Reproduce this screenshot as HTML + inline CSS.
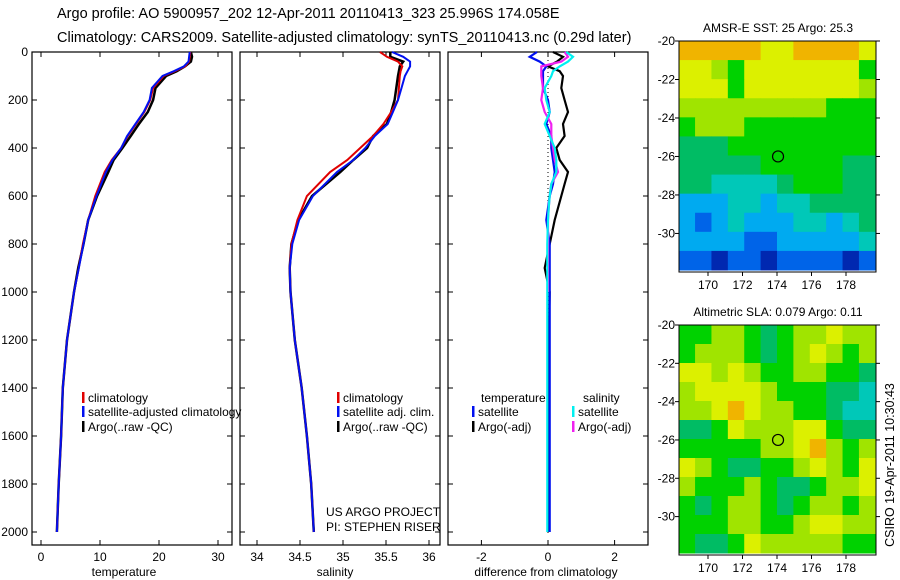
<!DOCTYPE html>
<html><head><meta charset="utf-8"><style>
html,body{margin:0;padding:0;background:#fff;}
svg{display:block;font-family:"Liberation Sans",sans-serif;}
</style></head><body>
<svg id="chart" width="900" height="580" viewBox="0 0 900 580">
<text x="57" y="18" font-size="14.5">Argo profile: AO 5900957_202 12-Apr-2011 20110413_323 25.996S 174.058E</text>
<text x="57" y="42" font-size="14.5">Climatology: CARS2009. Satellite-adjusted climatology: synTS_20110413.nc (0.29d later)</text>
<text transform="translate(894,465) rotate(-90)" text-anchor="middle" font-size="12.5">CSIRO 19-Apr-2011 10:30:43</text>
<g id="g"></g>
</svg>
<script>
// ---------- data ----------
const depths=[0,20,40,60,80,100,150,200,250,300,350,400,450,500,600,700,800,900,1000,1200,1400,1600,1800,2000];
const tempClim=[25.3,25.2,25.1,24.4,22.7,20.8,19,18.5,17.5,16.1,14.7,13.6,12,10.8,9.2,8,7.1,6.4,5.6,4.4,3.7,3.4,3,2.7];
const tempSat=[25.2,25.1,25.0,24.2,22.5,20.6,18.8,18.4,17.4,16.0,14.6,13.6,12.1,11.0,9.4,8.0,7.2,6.4,5.6,4.4,3.7,3.4,3.0,2.7];
const tempArgo=[25.4,25.6,25.4,24.4,23.0,21.2,19.4,19.0,18.1,16.6,15.2,13.8,12.3,11.4,9.5,8.0,7.2,6.3,5.6,4.4,3.7,3.4,3.0,2.7];
const salClim=[35.43,35.51,35.64,35.69,35.67,35.66,35.65,35.64,35.56,35.47,35.35,35.2,35.05,34.85,34.58,34.47,34.4,34.38,34.39,34.44,34.52,34.58,34.63,34.66];
const salSat=[35.57,35.7,35.78,35.78,35.75,35.72,35.68,35.64,35.58,35.52,35.37,35.26,35.12,34.93,34.65,34.49,34.41,34.38,34.39,34.44,34.52,34.58,34.63,34.66];
const salArgo=[35.55,35.55,35.7,35.66,35.65,35.64,35.62,35.6,35.56,35.51,35.35,35.28,35.12,34.97,34.64,34.48,34.4,34.38,34.39,34.44,34.52,34.58,34.63,34.66];
const diffDepths=[0,20,40,60,80,100,150,200,250,300,350,400,450,500,550,600,650,700,800,900,1000,1200,1400,1600,1800,2000];
const dTempSat=[-0.33,-0.55,-0.25,-0.05,-0.15,-0.15,-0.15,0,0.05,-0.05,0.1,0.1,0.15,0.2,0.15,0.05,0,-0.05,0.05,0.05,0.05,0.05,0.05,0.05,0.05,0.05];
const dTempArgo=[0.15,0.45,0.27,0,0.35,0.45,0.4,0.5,0.6,0.45,0.5,0.25,0.35,0.6,0.5,0.4,0.3,0.2,0.05,-0.1,0.05,0.02,0,0,0,0];
const dSalSat=[0.55,0.75,0.6,0.35,0.15,0.1,-0.1,-0.05,0.05,-0.1,0.05,0.2,0.25,0.25,0.1,0.05,0.02,0,-0.02,-0.02,-0.02,-0.02,-0.02,-0.02,-0.02,-0.02];
const dSalArgo=[0.5,0.6,0.4,-0.2,-0.2,-0.2,-0.15,-0.2,-0.1,0.1,0.1,0.15,0.2,0.3,0.1,0.05,0.02,0,0,0,0];
const depthTicks=[0,200,400,600,800,1000,1200,1400,1600,1800,2000];
const tempTicks=[0,10,20,30];
const salTicks=[34,34.5,35,35.5,36];
const diffTicks=[-2,0,2];
const latTicks=[-20,-22,-24,-26,-28,-30];
const lonTicks=[170,172,174,176,178];
const sstGrid=[
[8,8,8,8,8,7,7,8,8,8,8,7],
[7,7,6,5,7,7,7,7,7,7,7,5],
[7,7,7,5,7,7,7,7,7,7,7,6],
[6,6,6,6,6,6,6,6,6,5,5,5],
[5,6,6,6,5,5,5,5,5,5,5,5],
[4,4,4,5,5,5,5,5,5,5,5,5],
[4,4,4,4,4,5,5,5,5,5,4,4],
[4,4,3,3,3,3,4,5,5,5,4,4],
[2,2,2,3,3,2,3,3,4,4,4,4],
[2,1,2,3,2,2,2,3,3,2,3,4],
[2,2,2,2,1,1,2,2,2,2,2,3],
[1,1,0,1,1,0,1,1,1,1,0,1]];
const slaGrid=[
[5,5,6,6,5,4,5,6,6,7,6,6],
[5,6,6,6,5,4,5,6,7,6,5,6],
[7,7,6,7,6,5,5,6,6,5,5,4],
[6,7,7,7,7,6,5,5,5,4,4,3],
[6,6,7,8,7,6,6,5,5,4,3,3],
[4,4,5,7,6,6,6,7,7,5,4,4],
[5,5,5,5,5,6,6,7,8,6,5,6],
[7,6,5,4,4,5,5,6,7,6,5,7],
[6,5,5,5,6,5,4,4,5,6,6,7],
[5,4,5,6,6,5,4,5,6,6,5,6],
[5,5,5,6,6,5,5,6,7,7,6,6],
[5,4,4,5,7,6,6,6,6,6,5,5]];
const floatLon=174.06, floatLat=-26.0;

// ---------- helpers ----------
const NS="http://www.w3.org/2000/svg";
const G=document.getElementById('g');
function mk(tag,attrs,parent){const e=document.createElementNS(NS,tag);for(const k in attrs)e.setAttribute(k,attrs[k]);(parent||G).appendChild(e);return e;}
const Y0=52, YS=0.24;
function yD(d){return Y0+d*YS;}
const colors=['#0028b0','#0064e8','#00aaf0','#00c8b8','#00bc64','#00d200','#a0e400','#dcf000','#f0b400'];

function panel(name,x0,x1,xf,ticks,xlab,labelLeft){
  const top=52,bot=545;
  const r=mk('rect',{x:x0,y:top,width:x1-x0,height:bot-top,fill:'none',stroke:'#000','stroke-width':1.2});
  
  
  depthTicks.forEach(d=>{
    const y=yD(d);
    mk('line',{x1:x0,x2:x0+5,y1:y,y2:y,stroke:'#000'});
    mk('line',{x1:x1-5,x2:x1,y1:y,y2:y,stroke:'#000'});
    if(labelLeft){const t=mk('text',{x:x0-4,y:y+4,'text-anchor':'end','font-size':12});t.textContent=d;
      
      }
  });
  ticks.forEach(v=>{
    const x=xf(v);
    mk('line',{x1:x,x2:x,y1:top,y2:top+5,stroke:'#000'});
    mk('line',{x1:x,x2:x,y1:bot-5,y2:bot,stroke:'#000'});
    const t=mk('text',{x:x,y:561,'text-anchor':'middle','font-size':12});t.textContent=v;
    
    
  });
  const l=mk('text',{x:(x0+x1)/2-(name==='diff'?2:0)-(name==='temp'?8:0)-(name==='sal'?5:0),y:576,'text-anchor':'middle','font-size':12});l.textContent=xlab;
  
  
}
function line(name,vals,deps,xf,color,w){
  const pts=vals.map((v,i)=>xf(v).toFixed(1)+','+yD(deps[i]).toFixed(1)).join(' ');
  const p=mk('polyline',{points:pts,fill:'none',stroke:color,'stroke-width':w||2});
  
  
}
function legend(x,y,color,txt,name){
  if(color){mk('rect',{x:x,y:y-10,width:2.5,height:11,fill:color});}
  const t=mk('text',{x:x+6,y:y,'font-size':12});t.textContent=txt;
  
  
}

// temperature panel
const xT=v=>41+5.9*v;
panel('temp',32,232,xT,tempTicks,'temperature',true);
line('temp-argo-line',tempArgo,depths,xT,'#000',2.5);
line('temp-climatology-line',tempClim,depths,xT,'#e00000',2);
line('temp-satellite-line',tempSat,depths,xT,'#0010f0',2);
legend(82,402,'#e00000','climatology','legend-climatology');
legend(82,416,'#0010f0','satellite-adjusted climatology','legend-satellite');
legend(82,431,'#000','Argo(..raw -QC)','legend-argo');

// salinity panel
const xS=v=>257+86*(v-34);
panel('sal',240,440,xS,salTicks,'salinity',false);
line('sal-argo-line',salArgo,depths,xS,'#000',2.5);
line('sal-climatology-line',salClim,depths,xS,'#e00000',2);
line('sal-satellite-line',salSat,depths,xS,'#0010f0',2);
legend(337,402,'#e00000','climatology','legend-sal-climatology');
legend(337,416,'#0010f0','satellite adj. clim.','legend-sal-satellite');
legend(337,431,'#000','Argo(..raw -QC)','legend-sal-argo');
legend(320,516,null,'US ARGO PROJECT','project-label');
legend(320,531,null,'PI: STEPHEN RISER','pi-label');

// difference panel
const xDf=v=>548+33.3*v;
panel('diff',448,648,xDf,diffTicks,'difference from climatology',false);
mk('line',{x1:xDf(0),x2:xDf(0),y1:52,y2:535,stroke:'#000','stroke-dasharray':'1,3'});
line('diff-temp-argo-line',dTempArgo,diffDepths,xDf,'#000',2.2);
line('diff-temp-satellite-line',dTempSat,diffDepths,xDf,'#0010f0',2.2);
line('diff-sal-argo-line',dSalArgo,diffDepths.slice(0,dSalArgo.length),xDf,'#f020f0',2.2);
line('diff-sal-satellite-line',dSalSat,diffDepths,xDf,'#00f0f0',2.2);
legend(475,402,null,'temperature','legend-temperature-header');
legend(577,402,null,'salinity','legend-salinity-header');
legend(472,416,'#0010f0','satellite','legend-temp-satellite');
legend(472,431,'#000','Argo(-adj)','legend-temp-argo');
legend(572,416,'#00f0f0','satellite','legend-sal-satellite-diff');
legend(572,431,'#f020f0','Argo(-adj)','legend-sal-argo-diff');

// maps
function map(name,grid,top,bot,title){
  const L=679,R=876;
  const lonX=v=>708+17.25*(v-170);
  const latY=v=>top+(v+20)*((bot-top)/-11.9);
  const lon0=168.3,lon1=179.7,lat0=-20,lat1=-31.9;
  const nr=grid.length,nc=grid[0].length;
  grid.forEach((row,i)=>row.forEach((v,j)=>{
    const xa=lonX(lon0+(lon1-lon0)*j/nc),xb=lonX(lon0+(lon1-lon0)*(j+1)/nc);
    const ya=latY(lat0+(lat1-lat0)*i/nr),yb=latY(lat0+(lat1-lat0)*(i+1)/nr);
    const c=mk('rect',{x:xa,y:ya,width:xb-xa+0.5,height:yb-ya+0.5,fill:colors[v]});
    
    
  }));
  const fr=mk('rect',{x:L,y:top,width:R-L,height:bot-top+2,fill:'none',stroke:'#000'});
  
  
  latTicks.forEach(v=>{const y=latY(v);
    mk('line',{x1:L-4,x2:L,y1:y,y2:y,stroke:'#000'});mk('line',{x1:R,x2:R+4,y1:y,y2:y,stroke:'#000'});
    const t=mk('text',{x:L-4,y:y+4,'text-anchor':'end','font-size':12});t.textContent=v;
    
    });
  lonTicks.forEach(v=>{const x=lonX(v);
    mk('line',{x1:x,x2:x,y1:bot+2,y2:bot+6,stroke:'#000'});
    const t=mk('text',{x:x,y:bot+19,'text-anchor':'middle','font-size':12});t.textContent=v;
    
    });
  const c=mk('circle',{cx:lonX(floatLon),cy:latY(floatLat),r:5.5,fill:'none',stroke:'#000','stroke-width':1.2});
  
  
  const t=mk('text',{x:778,y:top-9,'text-anchor':'middle','font-size':12});t.textContent=title;
  
  
}
map('sst-map',sstGrid,41,270,'AMSR-E SST: 25 Argo: 25.3');
map('sla-map',slaGrid,325,553,'Altimetric SLA: 0.079 Argo: 0.11');
</script>
</body></html>
